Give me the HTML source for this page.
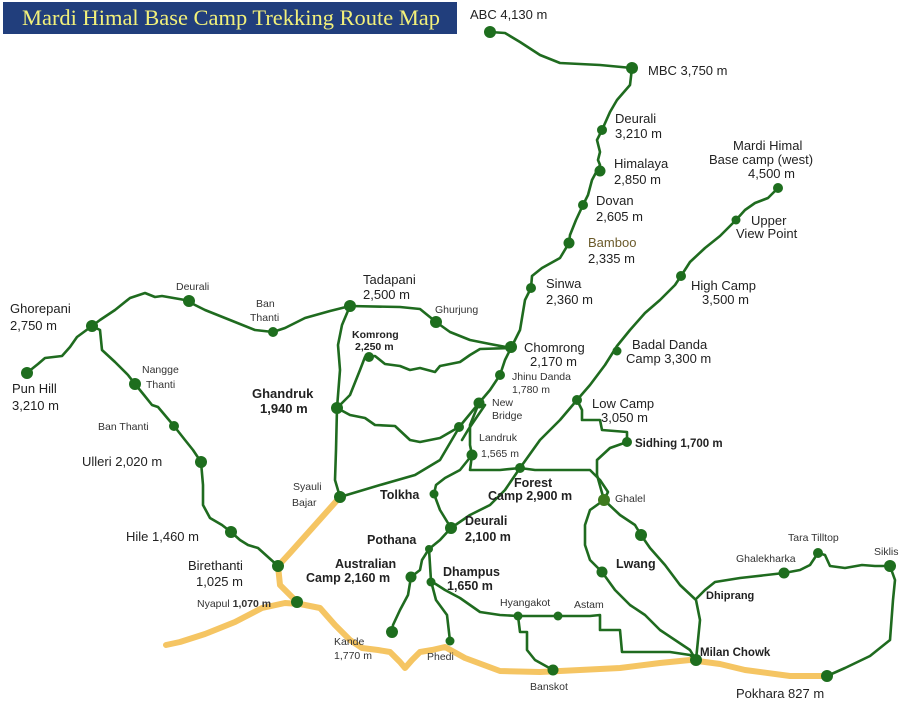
<!DOCTYPE html>
<html><head><meta charset="utf-8"><style>
html,body{margin:0;padding:0;background:#fff;}
svg{display:block;}
text{font-family:"Liberation Sans",sans-serif;fill:#222;}
.s{font-size:10.5px;fill:#333;}
.m{font-size:13px;}
.b{font-size:12.5px;font-weight:bold;}
</style></head><body>
<svg width="920" height="709" viewBox="0 0 920 709" xmlns="http://www.w3.org/2000/svg">
<rect x="0" y="0" width="920" height="709" fill="#fff"/>
<rect x="3" y="2" width="454" height="32" fill="#213e7c"/>
<text x="22" y="25" textLength="418" lengthAdjust="spacingAndGlyphs" style="font-family:'Liberation Serif',serif;font-size:22px;fill:#f2f07a">Mardi Himal Base Camp Trekking Route Map</text>

<g fill="none" stroke="#f5c563" stroke-width="6" stroke-linejoin="round" stroke-linecap="round">
<polyline points="166,645 180,642 205,634 235,622 262,608 285,603 300,604 320,608 335,625 350,640 362,648 378,650 390,652 400,662 405,668 412,660 420,652 432,650 445,647 465,658 500,671 540,672 580,670 620,668 660,663 690,660 720,664 745,670 790,676 827,676"/>
<polyline points="340,497 315,525 290,553 278,566 280,585 297,602"/>
</g>

<g fill="none" stroke="#1f6b1f" stroke-width="2.6" stroke-linejoin="round" stroke-linecap="round">
<polyline points="490,32 505,33 520,42 540,55 560,63 600,65 632,68"/>
<polyline points="632,68 630,85 617,100 610,112 602,130 597,140 600,152 598,160 600,165 592,180 588,195 583,205 576,220 570,235 569,243 560,258 542,268 532,276 531,288 525,300 522,318 520,330 511,348"/>
<polyline points="511,348 505,360 500,375 490,390 479,403 470,425 470,445 472,455"/>
<polyline points="479,403 460,426 440,460 415,475 380,485 340,497"/>
<polyline points="485,405 468,430 462,440"/>
<polyline points="472,455 470,470 500,470 520,468"/>
<polyline points="472,455 460,470 445,478 436,485 434,494 440,510 451,528"/>
<polyline points="451,528 470,515 490,505 505,490 520,468 540,440 560,420 577,400 590,385 605,365 617,346 630,330 645,313 660,300 675,285 681,276 690,262 705,248 720,236 736,220 745,210 755,203 768,198 778,188"/>
<polyline points="451,528 440,540 429,549 422,560 420,570 411,577 408,595 400,610 393,625 392,632"/>
<polyline points="429,549 431,581 436,600 447,615 450,641"/>
<polyline points="431,581 445,590 460,598 470,605 480,612 500,615 518,616 558,616 590,616 600,615 600,630 620,630 622,652 670,652 690,655 696,660"/>
<polyline points="518,616 520,632 527,632 527,650 535,660 553,670"/>
<polyline points="520,468 535,470 590,470 600,480 608,492 604,500"/>
<polyline points="577,400 582,410 582,420 600,420 602,430 627,432 627,442 610,448 597,460 597,475 604,500"/>
<polyline points="604,500 620,515 635,525 641,535 650,548 665,565 680,585 696,600 700,620 696,660"/>
<polyline points="604,500 590,510 585,525 585,545 590,560 602,572 615,590 630,605 645,615 660,630 690,650 696,660"/>
<polyline points="697,598 705,590 715,582 740,578 784,573 800,570 810,565 818,553 825,555 830,566 845,568 862,565 875,566 890,566"/>
<polyline points="890,566 895,580 893,600 890,640 870,656 845,668 827,676"/>
<polyline points="350,306 400,307 420,309 436,322 450,332 470,340 490,344 511,348"/>
<polyline points="350,306 330,311 305,318 285,328 273,332 255,330 230,320 205,310 195,305 185,300 162,296 155,297 145,293 130,298 115,310 100,320 92,326"/>
<polyline points="92,326 77,337 70,347 62,356 45,358 38,364 33,368 27,373"/>
<polyline points="92,326 100,330 102,350 115,362 128,375 135,384 144,395 152,405 158,407 174,426 185,440 193,450 201,462 203,485 203,505 210,518 222,525 231,532 240,540 248,545 258,548 278,566"/>
<polyline points="350,306 342,325 338,345 340,370 337,408 336,450 335,480 340,497"/>
<polyline points="337,408 350,395 360,370 365,357 375,356 385,364 400,366 410,370 420,368 435,372 440,366 460,362 470,355 480,349 511,348"/>
<polyline points="337,408 350,415 365,418 375,425 395,426 410,440 420,442 440,438 459,427"/>
</g>

<g fill="#1e6e1e">
<circle cx="490" cy="32" r="6"/><circle cx="632" cy="68" r="6"/><circle cx="602" cy="130" r="5"/>
<circle cx="600" cy="171" r="5.5"/><circle cx="583" cy="205" r="5"/><circle cx="569" cy="243" r="5.5"/>
<circle cx="531" cy="288" r="5"/><circle cx="511" cy="347" r="6"/><circle cx="500" cy="375" r="5"/>
<circle cx="479" cy="403" r="5.5"/><circle cx="472" cy="455" r="5.5"/><circle cx="520" cy="468" r="5"/>
<circle cx="434" cy="494" r="4.5"/><circle cx="451" cy="528" r="6"/><circle cx="429" cy="549" r="4"/>
<circle cx="411" cy="577" r="5.5"/><circle cx="431" cy="582" r="4.5"/><circle cx="392" cy="632" r="6"/>
<circle cx="450" cy="641" r="4.5"/><circle cx="518" cy="616" r="4.5"/><circle cx="558" cy="616" r="4.5"/>
<circle cx="553" cy="670" r="5.5"/><circle cx="696" cy="660" r="6"/><circle cx="827" cy="676" r="6"/>
<circle cx="890" cy="566" r="6"/><circle cx="818" cy="553" r="5"/><circle cx="784" cy="573" r="5.5"/>
<circle cx="602" cy="572" r="5.5"/><circle cx="641" cy="535" r="6"/><circle cx="604" cy="500" r="6" fill="#3e7a1e"/>
<circle cx="627" cy="442" r="5"/><circle cx="577" cy="400" r="5"/><circle cx="617" cy="351" r="4.5"/>
<circle cx="681" cy="276" r="5"/><circle cx="736" cy="220" r="4.5"/><circle cx="778" cy="188" r="5"/>
<circle cx="350" cy="306" r="6"/><circle cx="436" cy="322" r="6"/><circle cx="369" cy="357" r="5"/>
<circle cx="337" cy="408" r="6"/><circle cx="459" cy="427" r="5"/><circle cx="340" cy="497" r="6"/>
<circle cx="273" cy="332" r="5"/><circle cx="189" cy="301" r="6"/><circle cx="92" cy="326" r="6"/>
<circle cx="27" cy="373" r="6"/><circle cx="135" cy="384" r="6"/><circle cx="174" cy="426" r="5"/>
<circle cx="201" cy="462" r="6"/><circle cx="231" cy="532" r="6"/><circle cx="278" cy="566" r="6"/>
<circle cx="297" cy="602" r="6"/>
</g>

<g>
<text class="m" x="470" y="19">ABC 4,130 m</text>
<text class="m" x="648" y="75">MBC 3,750 m</text>
<text class="m" x="615" y="123">Deurali</text><text class="m" x="615" y="138">3,210 m</text>
<text class="m" x="614" y="168">Himalaya</text><text class="m" x="614" y="184">2,850 m</text>
<text class="m" x="596" y="205">Dovan</text><text class="m" x="596" y="221">2,605 m</text>
<text class="m" x="588" y="247" style="fill:#6b5a2a">Bamboo</text><text class="m" x="588" y="263">2,335 m</text>
<text class="m" x="546" y="288">Sinwa</text><text class="m" x="546" y="304">2,360 m</text>
<text class="m" x="524" y="352">Chomrong</text><text class="m" x="530" y="366">2,170 m</text>
<text class="s" x="512" y="380">Jhinu Danda</text><text class="s" x="512" y="393">1,780 m</text>
<text class="s" x="492" y="406">New</text><text class="s" x="492" y="419">Bridge</text>
<text class="s" x="479" y="441">Landruk</text><text class="s" x="481" y="457">1,565 m</text>
<text class="b" x="514" y="487">Forest</text><text class="b" x="488" y="500">Camp 2,900 m</text>
<text class="b" x="380" y="499">Tolkha</text>
<text class="b" x="465" y="525">Deurali</text><text class="b" x="465" y="541">2,100 m</text>
<text class="b" x="367" y="544">Pothana</text>
<text class="b" x="335" y="568">Australian</text><text class="b" x="306" y="582">Camp 2,160 m</text>
<text class="b" x="443" y="576">Dhampus</text><text class="b" x="447" y="590">1,650 m</text>
<text class="s" x="500" y="606">Hyangakot</text><text class="s" x="574" y="608">Astam</text>
<text class="s" x="334" y="645">Kande</text><text class="s" x="334" y="659">1,770 m</text>
<text class="s" x="427" y="660">Phedi</text>
<text class="s" x="530" y="690">Banskot</text>
<text class="b" x="700" y="656" style="font-size:11.5px">Milan Chowk</text>
<text class="m" x="736" y="698">Pokhara 827 m</text>
<text class="s" x="874" y="555">Siklis</text>
<text class="s" x="788" y="541">Tara Tilltop</text>
<text class="s" x="736" y="562">Ghalekharka</text>
<text class="b" x="706" y="599" style="font-size:11px">Dhiprang</text>
<text class="b" x="616" y="568">Lwang</text>
<text class="s" x="615" y="502">Ghalel</text>
<text class="b" x="635" y="447" style="font-size:11.5px">Sidhing 1,700 m</text>
<text class="m" x="592" y="408">Low Camp</text><text class="m" x="601" y="422">3,050 m</text>
<text class="m" x="632" y="349">Badal Danda</text><text class="m" x="626" y="363">Camp 3,300 m</text>
<text class="m" x="691" y="290">High Camp</text><text class="m" x="702" y="304">3,500 m</text>
<text class="m" x="751" y="225">Upper</text><text class="m" x="736" y="238">View Point</text>
<text class="m" x="733" y="150">Mardi Himal</text><text class="m" x="709" y="164">Base camp (west)</text><text class="m" x="748" y="178">4,500 m</text>
<text class="m" x="363" y="284">Tadapani</text><text class="m" x="363" y="299">2,500 m</text>
<text class="s" x="435" y="313">Ghurjung</text>
<text class="b" x="352" y="338" style="font-size:10.5px">Komrong</text><text class="b" x="355" y="350" style="font-size:10.5px">2,250 m</text>
<text class="b" x="252" y="398" style="font-size:13px">Ghandruk</text><text class="b" x="260" y="413" style="font-size:13px">1,940 m</text>
<text class="s" x="293" y="490">Syauli</text><text class="s" x="292" y="506">Bajar</text>
<text class="s" x="256" y="307">Ban</text><text class="s" x="250" y="321">Thanti</text>
<text class="s" x="176" y="290">Deurali</text>
<text class="m" x="10" y="313">Ghorepani</text><text class="m" x="10" y="330">2,750 m</text>
<text class="m" x="12" y="393">Pun Hill</text><text class="m" x="12" y="410">3,210 m</text>
<text class="s" x="142" y="373">Nangge</text><text class="s" x="146" y="388">Thanti</text>
<text class="s" x="98" y="430">Ban Thanti</text>
<text class="m" x="82" y="466">Ulleri 2,020 m</text>
<text class="m" x="126" y="541">Hile 1,460 m</text>
<text class="m" x="188" y="570">Birethanti</text><text class="m" x="196" y="586">1,025 m</text>
<text class="s" x="197" y="607">Nyapul <tspan style="font-weight:bold">1,070 m</tspan></text>
</g>
</svg>
</body></html>
